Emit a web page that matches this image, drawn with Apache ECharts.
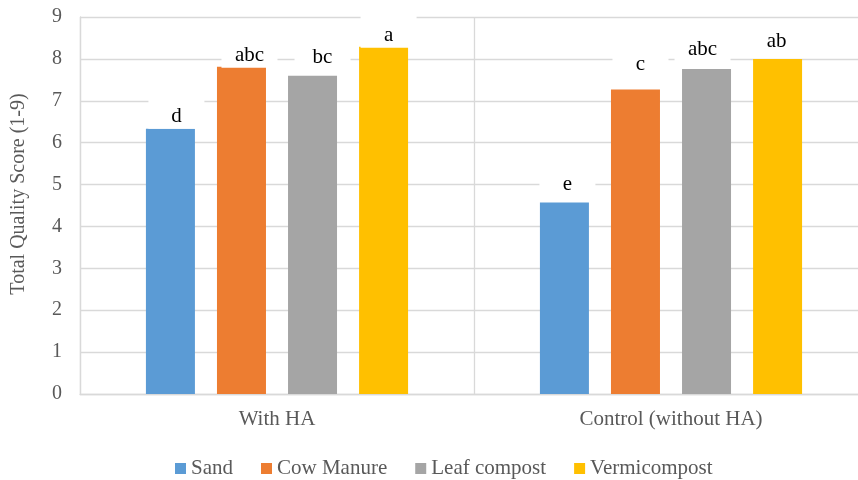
<!DOCTYPE html>
<html>
<head>
<meta charset="utf-8">
<script src="https://cdn.jsdelivr.net/npm/echarts@6/dist/echarts.min.js"></script>
<style>html,body{margin:0;padding:0;background:#fff;overflow:hidden}#c{width:868px;height:480px}</style>
</head>
<body>
<div id="c"></div>
<script>
// ---- data ----
const categories = ['With HA', 'Control (without HA)'];
const seriesNames = ['Sand', 'Cow Manure', 'Leaf compost', 'Vermicompost'];
const sand = [6.33, 4.57];
const cowManure = [7.81, 7.27];
const leafCompost = [7.60, 7.76];
const vermicompost = [8.29, 8.00];
const sandLetters = ['d', 'e'];
const cowManureLetters = ['abc', 'c'];
const leafCompostLetters = ['bc', 'abc'];
const vermicompostLetters = ['a', 'ab'];
const yMin = 0, yMax = 9, yStep = 1;
const yTitle = 'Total Quality Score (1-9)';

// ---- styles ----
const colors = ['#5B9BD5', '#ED7D31', '#A5A5A5', '#FFC000'];
const labelNudge = [
  [[6, 0], [3, -6]],
  [[8, 1], [5, -12]],
  [[10, -6], [-4, -7]],
  [[5, 1], [-1, -5]]
];
const serif = '"Liberation Serif", "Times New Roman", serif';

const values = [sand, cowManure, leafCompost, vermicompost];
const letters = [sandLetters, cowManureLetters, leafCompostLetters, vermicompostLetters];

const series = seriesNames.map((name, i) => ({
  name: name,
  type: 'bar',
  barWidth: 49,
  barGap: '45%',
  itemStyle: { color: colors[i] },
  data: values[i].map((v, j) => ({
    value: v,
    label: {
      show: true,
      position: 'top',
      distance: 0,
      offset: labelNudge[i][j],
      formatter: letters[i][j],
      fontFamily: serif,
      fontSize: 21,
      color: '#000',
      backgroundColor: '#fff',
      padding: [12, 10, 2, 10],
      width: 36,
      align: 'center'
    }
  }))
}));

const chart = echarts.init(document.getElementById('c'), null, { renderer: 'canvas' });
chart.setOption({
  animation: false,
  color: colors,
  grid: { left: 80, top: 17, right: 0, height: 377, containLabel: false },
  legend: {
    data: seriesNames,
    left: 170,
    top: 453,
    icon: 'rect',
    itemWidth: 11,
    itemHeight: 11,
    itemGap: 28,
    textStyle: { fontFamily: serif, fontSize: 21, color: '#595959' }
  },
  graphic: [{
    type: 'text',
    x: 19,
    y: 194,
    rotation: Math.PI / 2,
    style: {
      text: yTitle,
      fontFamily: serif,
      fontSize: 20,
      fill: '#595959',
      align: 'center',
      verticalAlign: 'middle'
    }
  }],
  xAxis: {
    type: 'category',
    data: categories,
    axisLine: { show: true, lineStyle: { color: '#d9d9d9', width: 1.3 } },
    axisTick: { show: false },
    splitLine: { show: true, lineStyle: { color: '#d9d9d9', width: 1.3 } },
    axisLabel: { margin: 15, fontFamily: serif, fontSize: 21, color: '#595959' }
  },
  yAxis: {
    type: 'value',
    min: yMin,
    max: yMax,
    interval: yStep,
    axisLine: { show: true, lineStyle: { color: '#d9d9d9', width: 1.3 } },
    axisTick: { show: false },
    splitLine: { show: true, lineStyle: { color: '#d9d9d9', width: 1.3 } },
    axisLabel: { margin: 18, fontFamily: serif, fontSize: 20, color: '#595959' }
  },
  series: series
});
</script>
</body>
</html>
